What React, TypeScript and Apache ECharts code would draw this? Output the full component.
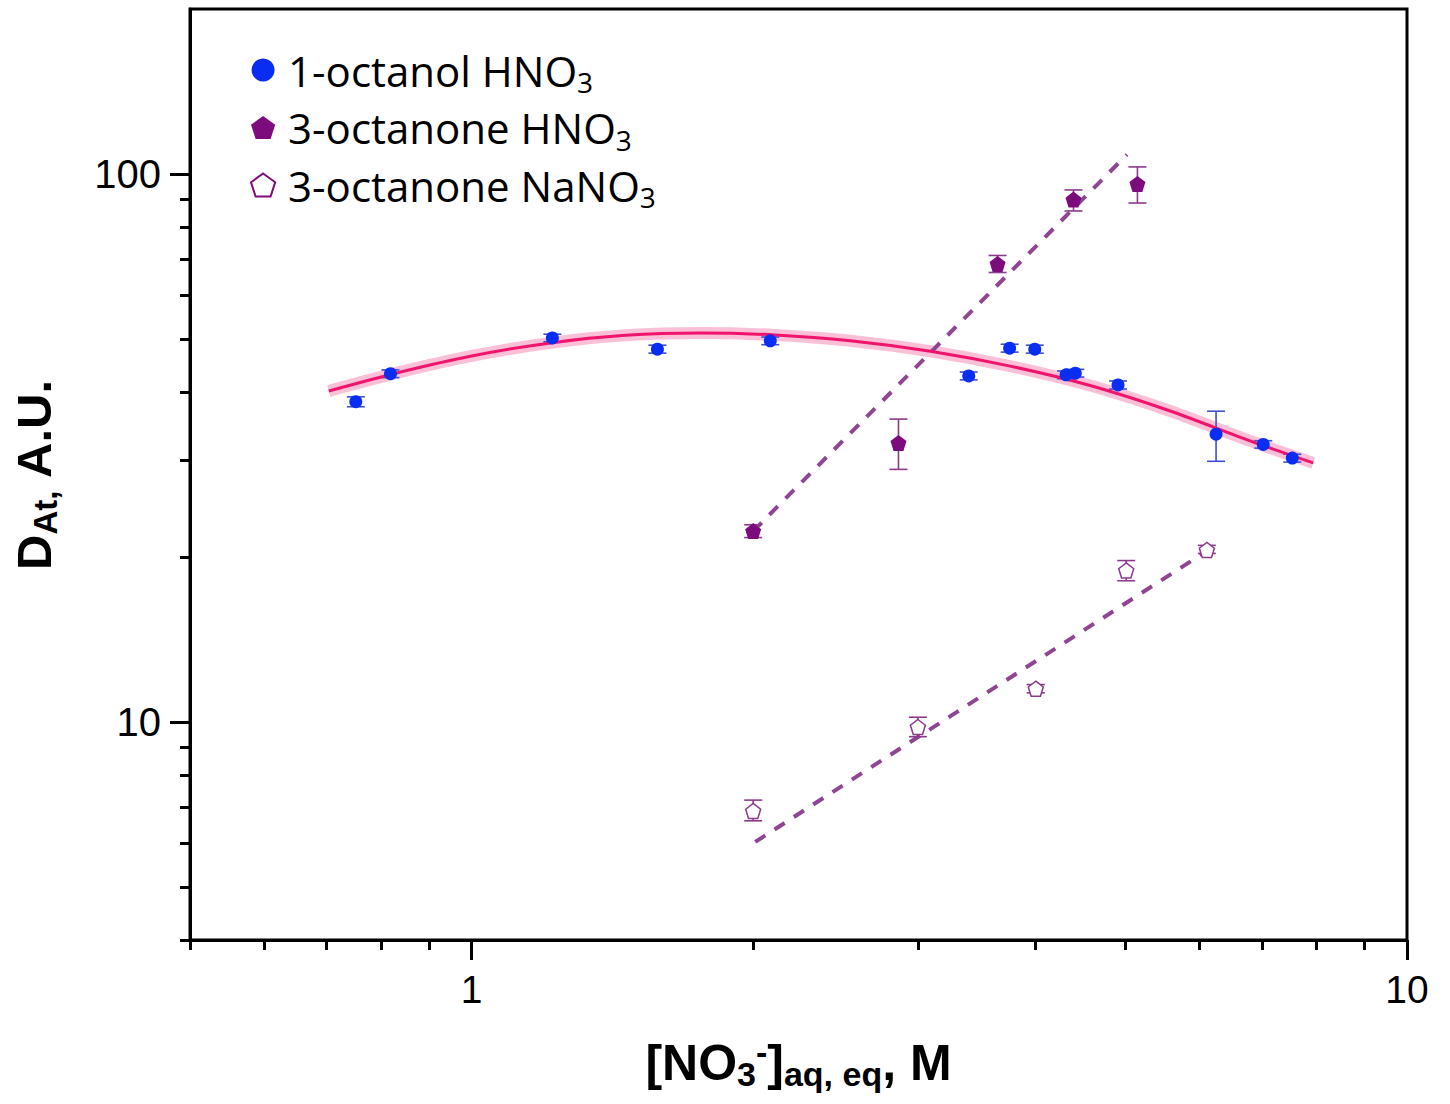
import React, { useEffect, useRef } from 'react';
import * as echarts from 'echarts';

// ---------- data ----------
const seriesNames = ['1-octanol HNO3', '3-octanone HNO3', '3-octanone NaNO3'];

const octanolX = [0.752, 0.819, 1.22, 1.58, 2.086, 3.40, 3.76, 4.0, 4.32, 4.42, 4.91, 6.25, 7.02, 7.54];
const octanolY = [38.4, 43.2, 50.2, 47.9, 49.6, 42.8, 48.1, 47.9, 43.0, 43.3, 41.2, 33.5, 32.1, 30.3];
const octanolLo = [37.6, 42.5, 49.4, 47.1, 48.8, 42.1, 47.3, 47.1, 42.3, 42.6, 40.5, 29.9, 31.6, 29.8];
const octanolHi = [39.2, 43.9, 51.0, 48.7, 50.4, 43.5, 48.9, 48.7, 43.7, 44.0, 41.9, 36.9, 32.6, 30.8];

const ketHX = [2.0, 2.86, 3.65, 4.40, 5.15];
const ketHY = [22.3, 32.3, 68.5, 89.8, 95.9];
const ketHLo = [21.7, 28.9, 66.1, 85.6, 88.5];
const ketHHi = [22.9, 35.7, 71.0, 93.5, 103.0];

const ketNaX = [2.0, 3.0, 4.01, 5.01, 6.11];
const ketNaY = [6.88, 9.79, 11.5, 18.9, 20.6];
const ketNaLo = [6.6, 9.4, 11.3, 18.1, 20.3];
const ketNaHi = [7.2, 10.2, 11.7, 19.7, 21.0];

// fitted curve for 1-octanol
const fitOctX = [0.7036, 0.8397, 1.0, 1.2144, 1.4605, 1.757, 2.1125, 2.5404, 3.0937, 3.7652, 4.5847, 5.5832, 6.796, 7.9381];
const fitOctY = [40.18, 43.52, 46.55, 49.17, 50.76, 51.27, 50.84, 49.62, 47.48, 44.6, 41.11, 36.94, 32.57, 29.7];

// dashed fit lines (end points)
const fitHX = [2.0, 5.02];
const fitHY = [22.3, 108.5];
const fitNaX = [2.01, 6.16];
const fitNaY = [6.04, 20.7];

// axes
const xMin = 0.5, xMax = 10;
const yMin = 4, yMax = 200;
const xMajor = [1, 10];
const xMinor = [0.5, 0.6, 0.7, 0.8, 0.9, 2, 3, 4, 5, 6, 7, 8, 9];
const yMajor = [10, 100];
const yMinor = [4, 5, 6, 7, 8, 9, 20, 30, 40, 50, 60, 70, 80, 90];

// ---------- styles ----------
const BLUE = '#0a2df2';
const BLUE_ERR = '#3f4fcf';
const PURPLE = '#7c0b7c';
const PURPLE_ERR = '#8c3a8c';
const DASH = '#8f4592';
const PINK = '#f0146e';
const BAND = 'rgba(244, 130, 178, 0.5)';
const PENTA = 'path://M0,-10 L9.511,-3.09 L5.878,8.09 L-5.878,8.09 L-9.511,-3.09 Z';
const AX_FONT = 'Liberation Sans';

const L = (v: number) => Math.log10(v);

function errorSeries(xs: number[], lo: number[], hi: number[], color: string) {
  return {
    type: 'custom',
    xAxisIndex: 0,
    yAxisIndex: 0,
    silent: true,
    z: 2,
    encode: { x: 0, y: [1, 2] },
    renderItem: (params: any, api: any) => {
      const x = api.value(0);
      const pLo = api.coord([x, api.value(1)]);
      const pHi = api.coord([x, api.value(2)]);
      const w = 9;
      const st = { stroke: color, lineWidth: 1.6 };
      return {
        type: 'group',
        children: [
          { type: 'line', shape: { x1: pLo[0], y1: pLo[1], x2: pHi[0], y2: pHi[1] }, style: st },
          { type: 'line', shape: { x1: pLo[0] - w, y1: pLo[1], x2: pLo[0] + w, y2: pLo[1] }, style: st },
          { type: 'line', shape: { x1: pHi[0] - w, y1: pHi[1], x2: pHi[0] + w, y2: pHi[1] }, style: st },
        ],
      };
    },
    data: xs.map((x, i) => [L(x), L(lo[i]), L(hi[i])]),
  };
}

const pts = (xs: number[], ys: number[]) => xs.map((x, i) => [L(x), L(ys[i])]);

export default function App() {
  const ref = useRef<HTMLDivElement>(null);
  useEffect(() => {
    if (!ref.current) return;
    const chart = echarts.init(ref.current, undefined, { renderer: 'svg' });
    const baseX = {
      type: 'value',
      min: L(xMin),
      max: L(xMax),
      position: 'bottom',
      splitLine: { show: false },
    };
    const baseY = {
      type: 'value',
      min: L(yMin),
      max: L(yMax),
      position: 'left',
      splitLine: { show: false },
    };
    const fmt = (v: number) => String(Math.round(Math.pow(10, v)));
    chart.setOption({
      animation: false,
      backgroundColor: '#ffffff',
      grid: {
        left: 190,
        right: 43,
        top: 9,
        bottom: 164,
        show: true,
        borderColor: '#000',
        borderWidth: 3,
        backgroundColor: 'transparent',
      },
      legend: {
        orient: 'vertical',
        left: 245,
        top: 44,
        itemWidth: 40,
        itemHeight: 23,
        itemGap: 10.5,
        data: [
          { name: seriesNames[0], icon: 'circle', itemStyle: { color: BLUE } },
          { name: seriesNames[1], icon: PENTA, itemStyle: { color: PURPLE } },
          { name: seriesNames[2], icon: PENTA, itemStyle: { color: '#ffffff', borderColor: PURPLE, borderWidth: 2 } },
        ],
        formatter: (name: string) => `{m|${name.slice(0, -1)}}{s|${name.slice(-1)}}`,
        textStyle: {
          color: '#000',
          fontFamily: 'Open Sans',
          fontSize: 42,
          rich: {
            m: { fontFamily: 'Open Sans', fontSize: 42, lineHeight: 52, color: '#000' },
            s: { fontFamily: 'Open Sans', fontSize: 28, color: '#000', verticalAlign: 'bottom', lineHeight: 14 },
          },
        },
      },
      xAxis: [
        {
          ...baseX,
          name: '{b|[NO}{s|3}{p|-}{b|]}{s|aq, eq}{b|, M}',
          nameLocation: 'middle',
          nameGap: 95,
          nameTextStyle: {
            rich: {
              b: { fontFamily: AX_FONT, fontWeight: 'bold', fontSize: 50, lineHeight: 56, color: '#000' },
              s: { fontFamily: AX_FONT, fontWeight: 'bold', fontSize: 34, color: '#000', verticalAlign: 'bottom', lineHeight: 28 },
              p: { fontFamily: AX_FONT, fontWeight: 'bold', fontSize: 34, color: '#000', verticalAlign: 'top', lineHeight: 34 },
            },
          },
          axisLine: { show: true, onZero: false, lineStyle: { color: '#000', width: 3 } },
          axisTick: { show: true, customValues: xMajor.map(L), length: 20, lineStyle: { color: '#000', width: 3 } },
          axisLabel: {
            show: true,
            customValues: xMajor.map(L),
            formatter: fmt,
            margin: 30,
            fontFamily: AX_FONT,
            fontSize: 39,
            color: '#000',
          },
        },
        {
          ...baseX,
          axisLine: { show: false, onZero: false },
          axisTick: { show: true, customValues: xMinor.map(L), length: 10, lineStyle: { color: '#000', width: 3 } },
          axisLabel: { show: false },
        },
      ],
      yAxis: [
        {
          ...baseY,
          name: '{b|D}{s|At,}{b| A.U.}',
          nameLocation: 'middle',
          nameRotate: 90,
          nameGap: 128,
          nameTextStyle: {
            rich: {
              b: { fontFamily: AX_FONT, fontWeight: 'bold', fontSize: 49, lineHeight: 56, color: '#000' },
              s: { fontFamily: AX_FONT, fontWeight: 'bold', fontSize: 33, color: '#000', verticalAlign: 'bottom', lineHeight: 34 },
            },
          },
          axisLine: { show: true, onZero: false, lineStyle: { color: '#000', width: 3 } },
          axisTick: { show: true, customValues: yMajor.map(L), length: 20, lineStyle: { color: '#000', width: 3 } },
          axisLabel: {
            show: true,
            customValues: yMajor.map(L),
            formatter: fmt,
            margin: 29,
            fontFamily: AX_FONT,
            fontSize: 40,
            color: '#000',
          },
        },
        {
          ...baseY,
          axisLine: { show: false, onZero: false },
          axisTick: { show: true, customValues: yMinor.map(L), length: 10, lineStyle: { color: '#000', width: 3 } },
          axisLabel: { show: false },
        },
      ],
      series: [
        {
          type: 'line',
          name: 'fit band',
          data: pts(fitOctX, fitOctY),
          smooth: 0.3,
          showSymbol: false,
          silent: true,
          lineStyle: { color: BAND, width: 12, cap: 'butt' },
          z: 1,
        },
        {
          type: 'line',
          name: 'fit octanol',
          data: pts(fitOctX, fitOctY),
          smooth: 0.3,
          showSymbol: false,
          silent: true,
          lineStyle: { color: PINK, width: 3 },
          z: 3,
        },
        {
          type: 'line',
          name: 'fit ketone HNO3',
          data: pts(fitHX, fitHY),
          showSymbol: false,
          silent: true,
          lineStyle: { color: DASH, width: 4, type: [12, 11] },
          z: 1,
        },
        {
          type: 'line',
          name: 'fit ketone NaNO3',
          data: pts(fitNaX, fitNaY),
          showSymbol: false,
          silent: true,
          lineStyle: { color: DASH, width: 4, type: [12, 11] },
          z: 1,
        },
        errorSeries(octanolX, octanolLo, octanolHi, BLUE_ERR),
        errorSeries(ketHX, ketHLo, ketHHi, PURPLE_ERR),
        errorSeries(ketNaX, ketNaLo, ketNaHi, PURPLE_ERR),
        {
          type: 'scatter',
          name: seriesNames[0],
          data: pts(octanolX, octanolY),
          symbol: 'circle',
          symbolSize: 13,
          itemStyle: { color: BLUE, opacity: 1 },
          z: 4,
        },
        {
          type: 'scatter',
          name: seriesNames[1],
          data: pts(ketHX, ketHY),
          symbol: PENTA,
          symbolSize: 16,
          itemStyle: { color: PURPLE, opacity: 1 },
          z: 4,
        },
        {
          type: 'scatter',
          name: seriesNames[2],
          data: pts(ketNaX, ketNaY),
          symbol: PENTA,
          symbolSize: 15,
          itemStyle: { color: '#ffffff', borderColor: PURPLE_ERR, borderWidth: 1.5, opacity: 1 },
          z: 4,
        },
      ],
    });
    return () => chart.dispose();
  }, []);
  return (
    <div
      ref={ref}
      style={{ position: 'fixed', left: 0, top: 0, width: 1450, height: 1104, background: '#fff' }}
    />
  );
}
